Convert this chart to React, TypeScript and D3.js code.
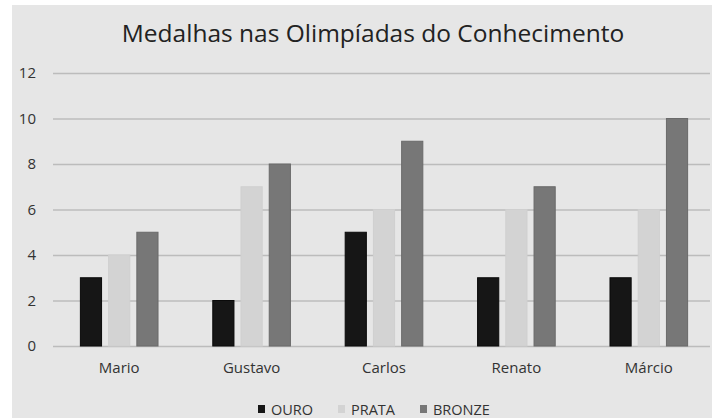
import { useCallback, useEffect, useRef } from "react";
import * as d3 from "d3";

const categories = ["Mario", "Gustavo", "Carlos", "Renato", "Márcio"];
const seriesNames = ["OURO", "PRATA", "BRONZE"];
const ouro = [3, 2, 5, 3, 3];
const prata = [4, 7, 6, 6, 6];
const bronze = [5, 8, 9, 7, 10];
const yTicks = [0, 2, 4, 6, 8, 10, 12];

const colors = ["#161616", "#d3d3d3", "#777777"];
const strokes = ["#0a0a0a", "#cfcfcf", "#6a6a6a"];

const App = () => {
  const svgRef = useRef(null);
  const width = 712;
  const height = 418;

  const renderGraph = useCallback((svgEl) => {
    const svg = d3.select(svgEl);
    svg.selectAll("*").remove();

    const margin = { top: 73, right: 0, bottom: 72, left: 53 };
    const font = "'Open Sans', 'Noto Sans', sans-serif";
    const textColor = "#333333";

    // gray chart area
    svg
      .append("rect")
      .attr("x", 12)
      .attr("y", 5)
      .attr("width", width - 12)
      .attr("height", height - 5)
      .attr("fill", "#e6e6e6");

    svg
      .append("text")
      .attr("x", 373)
      .attr("y", 42)
      .attr("text-anchor", "middle")
      .attr("font-family", font)
      .attr("font-size", 24.5)
      .attr("fill", "#222222")
      .text("Medalhas nas Olimpíadas do Conhecimento");

    const x = d3
      .scaleBand()
      .domain(categories)
      .range([margin.left, 715]);

    const x1 = d3
      .scaleBand()
      .domain(seriesNames)
      .range([0, x.bandwidth()])
      .paddingInner(0.25)
      .paddingOuter(0.97);

    const y = d3
      .scaleLinear()
      .domain([0, 12])
      .range([height - margin.bottom, margin.top]);

    const yAxis = (g) =>
      g
        .attr("transform", `translate(${margin.left},0)`)
        .call(
          d3
            .axisLeft(y)
            .tickValues(yTicks)
            .tickSize(-(width - margin.left - 2))
            .tickPadding(17)
        )
        .call((g) => g.select(".domain").remove())
        .call((g) =>
          g
            .selectAll(".tick line")
            .attr("stroke", "#bcbcbc")
            .attr("stroke-width", 1.5)
        )
        .call((g) =>
          g
            .selectAll(".tick text")
            .attr("font-family", font)
            .attr("font-size", 15)
            .attr("fill", textColor)
        );

    svg.append("g").call(yAxis);

    const data = [ouro, prata, bronze];
    const groups = svg
      .append("g")
      .selectAll("g")
      .data(categories)
      .join("g")
      .attr("transform", (d) => `translate(${x(d)},0)`);

    groups
      .selectAll("rect")
      .data((d, i) => seriesNames.map((s, k) => ({ s, k, v: data[k][i] })))
      .join("rect")
      .attr("x", (d) => x1(d.s))
      .attr("y", (d) => y(d.v))
      .attr("width", x1.bandwidth())
      .attr("height", (d) => y(0) - y(d.v))
      .attr("fill", (d) => colors[d.k])
      .attr("stroke", (d) => strokes[d.k])
      .attr("stroke-width", 1);

    const xAxis = (g) =>
      g
        .attr("transform", `translate(0,${y(0)})`)
        .call(d3.axisBottom(x).tickSize(0).tickPadding(16))
        .call((g) => g.select(".domain").remove())
        .call((g) =>
          g
            .selectAll(".tick text")
            .attr("font-family", font)
            .attr("font-size", 15)
            .attr("fill", textColor)
        );

    svg.append("g").call(xAxis);

    // legend
    const legendX = [258, 338, 420];
    const legend = svg
      .append("g")
      .selectAll("g")
      .data(seriesNames)
      .join("g")
      .attr("transform", (d, i) => `translate(${legendX[i]},409)`);

    legend
      .append("rect")
      .attr("x", 0)
      .attr("y", -4)
      .attr("width", 7)
      .attr("height", 8)
      .attr("fill", (d, i) => colors[i]);

    legend
      .append("text")
      .attr("x", 13)
      .attr("y", 5.5)
      .attr("font-family", font)
      .attr("font-size", 14.5)
      .attr("fill", textColor)
      .text((d) => d);
  }, []);

  useEffect(() => {
    renderGraph(svgRef.current);
  }, [renderGraph]);

  return (
    <svg
      ref={svgRef}
      width={width}
      height={height}
      style={{ position: "absolute", left: 0, top: 0, background: "#ffffff" }}
    />
  );
};

export default App;
